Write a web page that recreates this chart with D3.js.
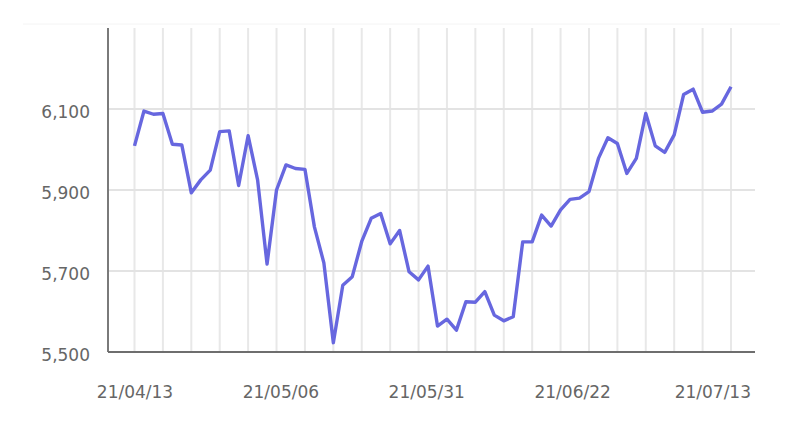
<!DOCTYPE html>
<html>
<head>
<meta charset="utf-8">
<script src="https://cdn.jsdelivr.net/npm/d3@7"></script>
<style>
  body { margin: 0; background: #fff; }
  text { font-family: "DejaVu Sans", sans-serif; fill: #666; }
</style>
</head>
<body>
<div id="chart"></div>
<script>
// trading days 21/04/13 .. 21/07/13
const dates = [
    "04/13", "04/14", "04/15", "04/16", "04/19", "04/20", "04/21", "04/22", "04/23", "04/26",
    "04/27", "04/28", "04/29", "04/30", "05/03", "05/04", "05/06", "05/07", "05/10", "05/11",
    "05/12", "05/13", "05/14", "05/17", "05/18", "05/20", "05/21", "05/24", "05/25", "05/26",
    "05/27", "05/28", "05/31", "06/01", "06/02", "06/03", "06/04", "06/07", "06/08", "06/09",
    "06/10", "06/11", "06/14", "06/15", "06/16", "06/17", "06/18", "06/21", "06/22", "06/23",
    "06/24", "06/25", "06/28", "06/29", "06/30", "07/01", "07/02", "07/05", "07/06", "07/07",
    "07/08", "07/09", "07/12", "07/13"
]
const values = [
    6009, 6095, 6087, 6089, 6013, 6011, 5893, 5925, 5949, 6044,
    6046, 5911, 6034, 5925, 5717, 5900, 5962, 5953, 5951, 5809,
    5720, 5523, 5665, 5686, 5773, 5830, 5842, 5767, 5800, 5698,
    5678, 5712, 5564, 5581, 5554, 5624, 5623, 5649, 5591, 5577,
    5587, 5772, 5772, 5838, 5811, 5851, 5877, 5880, 5896, 5978,
    6029, 6015, 5941, 5978, 6089, 6009, 5993, 6036, 6136, 6149,
    6092, 6095, 6112, 6155
]
const xLabels = ["21/04/13", "21/05/06", "21/05/31", "21/06/22", "21/07/13"]
const yTicks = [5500, 5700, 5900, 6100]

const W = 802, H = 431
const plot = { left: 108, right: 755, top: 28, bottom: 352 }
const fontSize = "17px"

const svg = d3.select("#chart").append("svg")
    .attr("width", W)
    .attr("height", H)

const x = d3.scalePoint()
    .domain(dates)
    .range([134.5, 731])

const xLab = d3.scalePoint() // labels spread evenly along the axis
    .domain(xLabels)
    .range([134.5, 718])

const y = d3.scaleLinear()
    .domain([5500, 6300])
    .range([plot.bottom, plot.top])

// faint frame line at top
svg.append("line")
    .attr("x1", 23).attr("x2", 780)
    .attr("y1", 24).attr("y2", 24)
    .attr("stroke", "#f4f4f4")

// vertical gridlines, one every 3 points
svg.append("g")
    .selectAll("line")
    .data(dates.filter((d, i) => i % 3 === 0))
    .enter().append("line")
    .attr("x1", d => x(d)).attr("x2", d => x(d))
    .attr("y1", plot.top).attr("y2", plot.bottom)
    .attr("stroke", "#e8e8e8")
    .attr("stroke-width", 2)

// horizontal gridlines
svg.append("g")
    .selectAll("line")
    .data(yTicks.slice(1))
    .enter().append("line")
    .attr("x1", plot.left).attr("x2", plot.right)
    .attr("y1", d => y(d)).attr("y2", d => y(d))
    .attr("stroke", "#e3e3e3")
    .attr("stroke-width", 2)

// y labels
const yAxis = d3.axisLeft(y)
    .tickValues(yTicks)
    .tickFormat(d3.format(","))
    .tickSize(0)
    .tickPadding(18)

svg.append("g")
    .attr("transform", `translate(${plot.left},0)`)
    .call(yAxis)
    .call(g => g.select(".domain").remove())
    .selectAll("text")
    .attr("dy", "0.5em")
    .style("font-size", fontSize)
    .style("fill", "#666")
    .style("font-family", "'DejaVu Sans', sans-serif")

// x labels
const xAxis = d3.axisBottom(xLab).tickSize(0).tickPadding(0)
const xg = svg.append("g")
    .attr("transform", `translate(0,${plot.bottom})`)
    .call(xAxis)
xg.select(".domain").remove()
xg.selectAll("text")
    .attr("y", 40)
    .attr("dy", "0.35em")
    .style("font-size", fontSize)
    .style("fill", "#666")
    .style("font-family", "'DejaVu Sans', sans-serif")

// keep last label inside the frame
xg.selectAll(".tick").each(function () {
    const t = d3.select(this).select("text")
    const b = t.node().getBBox()
    const tr = d3.select(this).attr("transform")
    const cx = +tr.match(/translate\(([-\d.]+)/)[1]
    if (cx + b.x + b.width > 751) t.attr("x", 751 - (cx + b.x + b.width))
})

// axis lines
svg.append("line")
    .attr("x1", plot.left).attr("x2", plot.left)
    .attr("y1", plot.top).attr("y2", plot.bottom)
    .attr("stroke", "#7a7a7a").attr("stroke-width", 2)
svg.append("line")
    .attr("x1", plot.left).attr("x2", plot.right)
    .attr("y1", plot.bottom).attr("y2", plot.bottom)
    .attr("stroke", "#6e6e6e").attr("stroke-width", 2)

// series line
const line = d3.line()
    .x((d, i) => x(dates[i]))
    .y(d => y(d))

svg.append("path")
    .datum(values)
    .attr("d", line)
    .attr("fill", "none")
    .attr("stroke", "#6767df")
    .attr("stroke-width", 3.4)
    .attr("stroke-linejoin", "round")
</script>
</body>
</html>
